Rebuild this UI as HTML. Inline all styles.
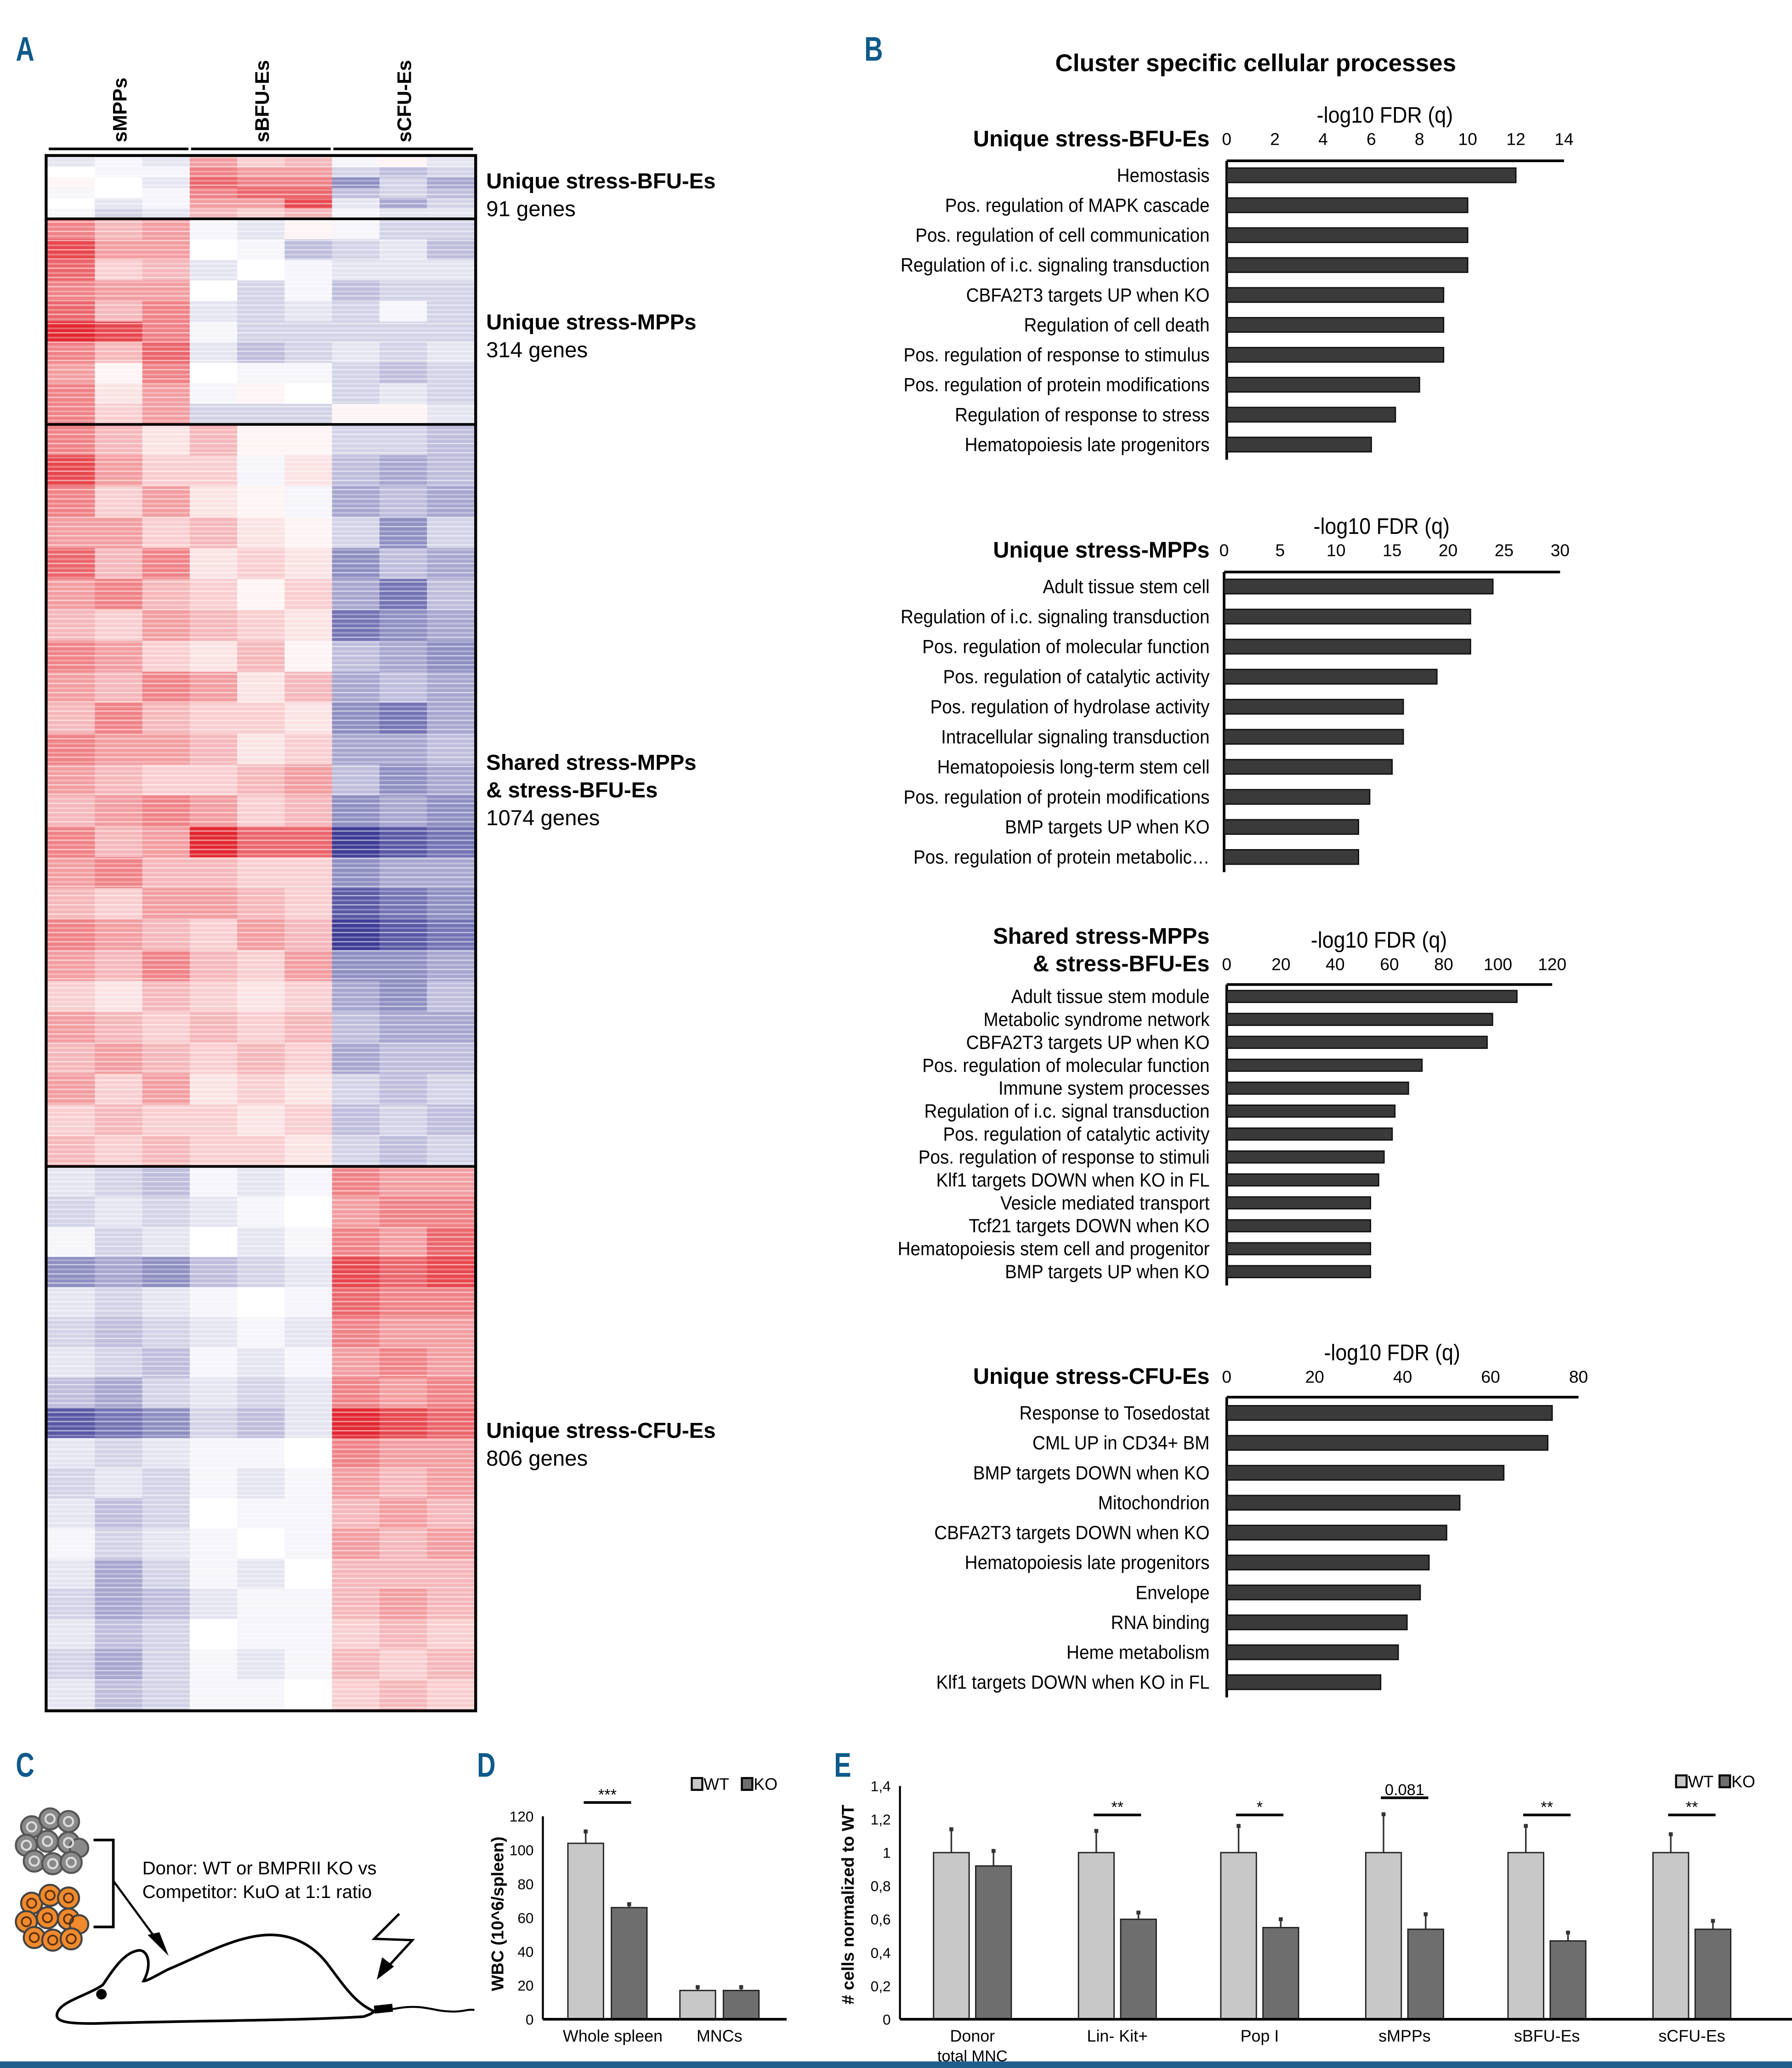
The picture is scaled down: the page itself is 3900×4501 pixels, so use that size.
<!DOCTYPE html>
<html><head><meta charset="utf-8"><style>
html,body{margin:0;padding:0;background:#fff;}
svg{display:block;}
text{font-family:"Liberation Sans",sans-serif;}
</style></head><body>
<svg id="fig" xmlns="http://www.w3.org/2000/svg" width="3900" height="4501" viewBox="0 0 1360 1569" preserveAspectRatio="none">
<defs>
<pattern id="stripes" x="0" y="0" width="10" height="7" patternUnits="userSpaceOnUse">
<rect x="0" y="0" width="10" height="1" fill="#fff" opacity="0.55"/>
<rect x="0" y="3.5" width="10" height="1.3" fill="#fff" opacity="0.3"/>
</pattern>
</defs>
<rect x="0" y="0" width="1360" height="1569" fill="#fff"/>
<g id="panelA"></g>
<g id="panelB"></g>
<g id="panelC">
  <text x="12" y="1348" font-size="26" font-weight="bold" fill="#0e5a8a" transform="translate(12,1348) scale(0.75,1) translate(-12,-1348)">C</text>
  <g fill="#8a8a8a" stroke="#555" stroke-width="1.5">
    <circle cx="24" cy="1386" r="8"/><circle cx="38" cy="1380" r="8"/><circle cx="52" cy="1382" r="8"/>
    <circle cx="20" cy="1400" r="8"/><circle cx="36" cy="1397" r="8"/><circle cx="52" cy="1398" r="8"/><circle cx="60" cy="1402" r="7"/>
    <circle cx="26" cy="1412" r="8"/><circle cx="40" cy="1414" r="8"/><circle cx="54" cy="1413" r="8"/>
  </g>
  <g fill="none" stroke="#ddd" stroke-width="1.5">
    <circle cx="24" cy="1386" r="3.5"/><circle cx="38" cy="1380" r="3.5"/><circle cx="52" cy="1382" r="3.5"/>
    <circle cx="20" cy="1400" r="3.5"/><circle cx="36" cy="1397" r="3.5"/><circle cx="52" cy="1398" r="3.5"/>
    <circle cx="26" cy="1412" r="3.5"/><circle cx="40" cy="1414" r="3.5"/><circle cx="54" cy="1413" r="3.5"/>
  </g>
  <g fill="#f08a2c" stroke="#444" stroke-width="1.5">
    <circle cx="24" cy="1444" r="8"/><circle cx="38" cy="1438" r="8"/><circle cx="52" cy="1440" r="8"/>
    <circle cx="20" cy="1458" r="8"/><circle cx="36" cy="1455" r="8"/><circle cx="52" cy="1456" r="8"/><circle cx="60" cy="1460" r="7"/>
    <circle cx="26" cy="1470" r="8"/><circle cx="40" cy="1472" r="8"/><circle cx="54" cy="1471" r="8"/>
  </g>
  <g fill="none" stroke="#5a3010" stroke-width="1.3">
    <circle cx="24" cy="1444" r="3.5"/><circle cx="38" cy="1438" r="3.5"/><circle cx="52" cy="1440" r="3.5"/>
    <circle cx="20" cy="1458" r="3.5"/><circle cx="36" cy="1455" r="3.5"/><circle cx="52" cy="1456" r="3.5"/>
    <circle cx="26" cy="1470" r="3.5"/><circle cx="40" cy="1472" r="3.5"/><circle cx="54" cy="1471" r="3.5"/>
  </g>
  <path d="M71 1396 H86 V1462 H71" fill="none" stroke="#000" stroke-width="2"/>
  <path d="M86 1427 L125 1480" stroke="#000" stroke-width="1.6" fill="none"/>
  <path d="M128 1484 L112 1468 L121 1466 Z" fill="#000"/>
  <text x="108" y="1422" font-size="14">Donor: WT or BMPRII KO vs</text>
  <text x="108" y="1440" font-size="14">Competitor: KuO at 1:1 ratio</text>
  <path d="M303 1452 L284 1471 L313 1472 L290 1497" fill="none" stroke="#000" stroke-width="1.8"/>
  <path d="M286 1502 L290 1485 L299 1492 Z" fill="#000"/>
  <path d="M109 1503 C116 1490 112 1478 104 1480 C94 1482 86 1494 78 1506 C66 1514 48 1518 44 1526 C40 1534 50 1536 80 1535 C150 1533 230 1533 276 1530 C282 1528 283 1527 284 1526 C270 1520 262 1508 250 1492 C240 1478 225 1468 205 1468 C180 1468 150 1485 128 1494 C120 1498 112 1503 109 1503 Z" fill="none" stroke="#000" stroke-width="2"/>
  <circle cx="77" cy="1513" r="4" fill="#000"/>
  <path d="M284 1526 L300 1524 M300 1524 C320 1520 330 1526 340 1526 C350 1527 355 1524 360 1525" fill="none" stroke="#000" stroke-width="1.5"/>
  <rect x="284" y="1521" width="14" height="6" fill="#000" transform="rotate(-6 291 1524)"/>
</g>
<g id="panelD"></g>
<g id="panelE"></g>
<rect x="0" y="1564" width="1360" height="5" fill="#1f5f8b"/>
</svg>
<script>
// ---------- Panel A heatmap data ----------
const heatColumns = ["sMPPs","sMPPs","sMPPs","sBFU-Es","sBFU-Es","sBFU-Es","sCFU-Es","sCFU-Es","sCFU-Es"];
const clusterNames = ["Unique stress-BFU-Es","Unique stress-MPPs","Shared stress-MPPs & stress-BFU-Es","Unique stress-CFU-Es"];
const clusterGenes = [91,314,1074,806];
const cluster1 = [
[-2,-1,-2,5,3,4,-1,1,-2],[0,-1,-1,6,5,5,-3,-4,-3],[1,0,-2,7,6,6,-6,-3,-5],
[-1,0,-1,6,7,7,-4,-3,-4],[0,-2,-1,5,5,8,-2,-5,-3],[-1,-3,-2,4,3,4,-1,-2,-2]];
const cluster2 = [
[6,4,5,-1,-2,1,-1,-3,-3],[8,5,5,0,-1,-4,-3,-2,-4],[7,3,4,-2,0,-1,-2,-2,-2],
[6,5,5,0,-3,-1,-4,-3,-3],[7,4,6,-2,-3,-2,-3,-1,-3],[9,8,6,-1,-3,-3,-3,-3,-3],
[6,4,7,-2,-4,-3,-2,-3,-2],[5,1,6,0,-1,-1,-3,-4,-3],[6,2,5,-1,1,0,-3,-2,-3],[6,3,5,-3,-3,-3,1,1,-2]];
const cluster3 = [
[6,4,2,4,1,1,-3,-3,-4],[8,5,3,3,-1,2,-4,-5,-4],[6,3,5,2,1,-1,-5,-4,-5],[5,5,3,4,2,1,-3,-6,-3],
[7,4,6,2,3,2,-6,-4,-5],[5,6,4,3,1,3,-5,-7,-4],[4,3,5,4,3,2,-7,-6,-5],[6,5,3,2,4,1,-4,-5,-6],
[5,4,6,5,2,4,-5,-4,-5],[4,6,4,3,3,2,-6,-7,-5],[6,5,5,4,2,3,-5,-5,-4],[5,4,3,3,4,5,-4,-6,-5],
[4,5,6,5,3,4,-6,-5,-6],[6,4,5,9,7,7,-9,-8,-7],[5,6,4,4,3,3,-6,-5,-5],[4,3,5,5,4,3,-8,-7,-6],
[6,5,4,3,5,4,-9,-8,-7],[5,4,6,4,3,5,-6,-6,-5],[3,2,4,3,2,3,-5,-6,-4],[5,4,3,4,3,4,-4,-5,-5],
[4,5,4,3,4,3,-5,-4,-4],[5,3,5,2,3,2,-3,-4,-3],[3,4,3,3,2,3,-4,-3,-4],[4,3,4,3,3,2,-3,-4,-3]];
const cluster4 = [
[-2,-3,-4,-1,-2,-1,6,5,5],[-3,-2,-3,-2,-1,0,5,6,6],[-1,-3,-2,0,-2,-1,6,5,7],[-6,-5,-6,-4,-3,-2,8,7,8],
[-2,-3,-2,-1,0,-1,7,6,6],[-3,-4,-3,-2,-1,-2,6,5,5],[-2,-3,-4,-1,-2,-1,5,6,5],[-4,-5,-3,-2,-3,-2,6,5,6],
[-8,-7,-6,-3,-4,-2,9,8,7],[-2,-3,-2,-1,-1,0,6,5,5],[-3,-2,-3,-1,-2,-1,5,4,5],[-2,-4,-3,0,-1,-1,4,5,4],
[-1,-3,-2,-1,0,-1,5,4,5],[-2,-5,-3,-1,-2,0,4,4,4],[-3,-5,-4,-2,-1,-1,4,5,4],[-2,-4,-3,0,-1,-1,3,4,3],
[-3,-5,-3,-1,-2,-1,4,3,4],[-2,-4,-3,-1,-1,0,3,4,3]];

// ---------- Panel B data ----------
const b1Title = ["Unique stress-BFU-Es"];
const b1Ticks = [0,2,4,6,8,10,12,14];
const b1Terms = ["Hemostasis","Pos. regulation of MAPK cascade","Pos. regulation of cell communication","Regulation of i.c. signaling transduction","CBFA2T3  targets UP when KO","Regulation of cell death","Pos. regulation of response to stimulus","Pos. regulation of protein modifications","Regulation of response to stress","Hematopoiesis late progenitors"];
const b1Values = [12,10,10,10,9,9,9,8,7,6];
const b2Title = ["Unique stress-MPPs"];
const b2Ticks = [0,5,10,15,20,25,30];
const b2Terms = ["Adult tissue stem cell","Regulation of i.c. signaling transduction","Pos. regulation of molecular function","Pos. regulation of catalytic activity","Pos. regulation of hydrolase activity","Intracellular signaling transduction","Hematopoiesis long-term stem cell","Pos. regulation of protein modifications","BMP targets UP when KO","Pos. regulation of protein metabolic…"];
const b2Values = [24,22,22,19,16,16,15,13,12,12];
const b3Title = ["Shared stress-MPPs","& stress-BFU-Es"];
const b3Ticks = [0,20,40,60,80,100,120];
const b3Terms = ["Adult tissue stem module","Metabolic syndrome network","CBFA2T3  targets UP when KO","Pos. regulation of molecular function","Immune system processes","Regulation of i.c. signal transduction","Pos. regulation of catalytic activity","Pos. regulation of response to stimuli","Klf1 targets DOWN when KO in FL","Vesicle mediated transport","Tcf21 targets DOWN when KO","Hematopoiesis stem cell and progenitor","BMP targets UP when KO"];
const b3Values = [107,98,96,72,67,62,61,58,56,53,53,53,53];
const b4Title = ["Unique stress-CFU-Es"];
const b4Ticks = [0,20,40,60,80];
const b4Terms = ["Response to Tosedostat","CML  UP in CD34+ BM","BMP targets DOWN when KO","Mitochondrion","CBFA2T3 targets DOWN when KO","Hematopoiesis late progenitors","Envelope","RNA binding","Heme metabolism","Klf1 targets DOWN when KO in FL"];
const b4Values = [74,73,63,53,50,46,44,41,39,35];

// ---------- Panel D data ----------
const dCategories = ["Whole spleen","MNCs"];
const dWT = [104,17];
const dKO = [66,17];
const dWTerr = [7,2];
const dKOerr = [2,2];
const dTicks = [0,20,40,60,80,100,120];
const dSig = ["***",""];

// ---------- Panel E data ----------
const eCategories = ["Donor","Lin- Kit+","Pop I","sMPPs","sBFU-Es","sCFU-Es"];
const eWT = [1,1,1,1,1,1];
const eKO = [0.92,0.60,0.55,0.54,0.47,0.54];
const eWTerr = [0.14,0.13,0.16,0.23,0.16,0.11];
const eKOerr = [0.09,0.04,0.05,0.09,0.05,0.05];
const eTicks = [0,0.2,0.4,0.6,0.8,1,1.2,1.4];
const eSig = ["","**","*","0.081","**","**"];

const NS="http://www.w3.org/2000/svg";
function mk(parent,tag,attrs,txt){const e=document.createElementNS(NS,tag);for(const k in attrs)e.setAttribute(k,attrs[k]);if(txt!==undefined)e.textContent=txt;parent.appendChild(e);return e;}

// ---------- Panel A ----------
(function(){
  const g=document.getElementById('panelA');
  const L=mk(g,'text',{x:12,y:46,'font-size':26,'font-weight':'bold',fill:'#0e5a8a',transform:'translate(12,46) scale(0.75,1) translate(-12,-46)'},'A');
  
  
  const x0=36,x1=360,colW=(x1-x0)/9;
  const bounds=[119,166,322,885,1297];
  const clusters=[cluster1,cluster2,cluster3,cluster4];
  function col(v){const t=Math.pow(Math.min(Math.abs(v)/9,1),1.35)*0.92;
    let r,gg,b;
    if(v>=0){r=255+(224-255)*t;gg=255+(20-255)*t;b=255+(30-255)*t;}
    else{r=255+(43-255)*t;gg=255+(42-255)*t;b=255+(140-255)*t;}
    return 'rgb('+Math.round(r)+','+Math.round(gg)+','+Math.round(b)+')';}
  clusters.forEach((rows,ci)=>{
    const y0=bounds[ci],y1=bounds[ci+1],h=(y1-y0)/rows.length;
    rows.forEach((row,ri)=>{row.forEach((v,cj)=>{
      const r=mk(g,'rect',{x:x0+cj*colW,y:y0+ri*h,width:colW+0.3,height:h+0.3,fill:col(v)});
      
      
    });});
    const lines=clusterNames[ci]==="Shared stress-MPPs & stress-BFU-Es"?["Shared stress-MPPs","& stress-BFU-Es"]:[clusterNames[ci]];
    const ly=[143,250,584,1091][ci];
    const lg=mk(g,'g',{});
    
    
    lines.forEach((t,i)=>mk(lg,'text',{x:369,y:ly+i*21,'font-size':16.5,'font-weight':'bold'},t));
    mk(lg,'text',{x:369,y:ly+lines.length*21,'font-size':16.5},clusterGenes[ci]+' genes');
  });
  const tex=mk(g,'rect',{x:x0,y:119,width:x1-x0,height:1178,fill:'url(#stripes)'});
  
  
  [166,322,885].forEach(y=>{const l=mk(g,'line',{x1:x0,x2:x1,y1:y,y2:y,stroke:'#000','stroke-width':2});});
  const bd=mk(g,'rect',{x:35,y:118,width:326,height:1180,fill:'none',stroke:'#000','stroke-width':2.2});
  
  
  const groups=["sMPPs","sBFU-Es","sCFU-Es"];
  groups.forEach((n,i)=>{
    const cx=x0+(i*3+1.5)*colW;
    const t=mk(g,'text',{x:0,y:0,'font-size':15,'font-weight':'bold',transform:'translate('+(cx+6)+',108) rotate(-90)'},n);
    
    
    const u=mk(g,'line',{x1:x0+i*3*colW+1,x2:x0+(i+1)*3*colW-1,y1:113,y2:113,stroke:'#000','stroke-width':2});
    
    
  });
})();

// ---------- Panel B ----------
(function(){
  const g=document.getElementById('panelB');
  const L=mk(g,'text',{x:656,y:46,'font-size':26,'font-weight':'bold',fill:'#0e5a8a',transform:'translate(656,46) scale(0.75,1) translate(-656,-46)'},'B');
  
  
  const T=mk(g,'text',{x:953,y:54,'font-size':18.5,'font-weight':'bold','text-anchor':'middle'},'Cluster specific cellular processes');
  
  
  const panels=[
    {title:b1Title,ticks:b1Ticks,terms:b1Terms,vals:b1Values,xa:931,xb:1187,tickY:110,axisY:122,y0:133,step:22.7,barH:11,name:'enrichment-bfu'},
    {title:b2Title,ticks:b2Ticks,terms:b2Terms,vals:b2Values,xa:929,xb:1184,tickY:422,axisY:434,y0:445,step:22.8,barH:11,name:'enrichment-mpp'},
    {title:b3Title,ticks:b3Ticks,terms:b3Terms,vals:b3Values,xa:931,xb:1178,tickY:736,axisY:747,y0:756,step:17.4,barH:9,name:'enrichment-shared'},
    {title:b4Title,ticks:b4Ticks,terms:b4Terms,vals:b4Values,xa:931,xb:1198,tickY:1049,axisY:1060,y0:1072,step:22.7,barH:11,name:'enrichment-cfu'}];
  panels.forEach(p=>{
    const pg=mk(g,'g',{});
    
    
    const maxT=p.ticks[p.ticks.length-1];
    const sx=v=>p.xa+(p.xb-p.xa)*v/maxT;
    const at=mk(pg,'text',{x:0,y:0,'font-size':17,'text-anchor':'middle',transform:'translate('+((p.xa+p.xb)/2-8)+','+(p.tickY-17)+') scale(0.92,1)'},'-log10 FDR (q)');
    
    
    p.title.forEach((t,i)=>{
      const tt=mk(pg,'text',{x:918,y:p.tickY-(p.title.length-1-i)*21+1,'font-size':17,'font-weight':'bold','text-anchor':'end'},t);
      
      
    });
    p.ticks.forEach(t=>{
      const tl=mk(pg,'text',{x:sx(t),y:p.tickY,'font-size':13,'text-anchor':'middle'},String(t));
      
      
    });
    const ax=mk(pg,'line',{x1:p.xa,x2:p.xb,y1:p.axisY,y2:p.axisY,stroke:'#000','stroke-width':2});
    
    
    const yEnd=p.y0+p.step*(p.terms.length-1)+p.barH/2+6;
    const ay=mk(pg,'line',{x1:p.xa,x2:p.xa,y1:p.axisY,y2:yEnd,stroke:'#000','stroke-width':2});
    
    
    p.terms.forEach((term,i)=>{
      const cy=p.y0+p.step*i;
      const b=mk(pg,'rect',{x:p.xa,y:cy-p.barH/2,width:sx(p.vals[i])-p.xa,height:p.barH,fill:'#3a3a3a',stroke:'#111','stroke-width':1});
      
      
      const lab=mk(pg,'text',{x:0,y:0,'font-size':14.5,'text-anchor':'end',transform:'translate(918,'+(cy+5)+') scale(0.93,1)'},term);
      
      
    });
  });
})();

// ---------- Panel D ----------
(function(){
  const g=document.getElementById('panelD');
  const L=mk(g,'text',{x:362,y:1348,'font-size':26,'font-weight':'bold',fill:'#0e5a8a',transform:'translate(362,1348) scale(0.75,1) translate(-362,-1348)'},'D');
  
  
  const xa=412,xb=597,y0=1532,y1=1378,maxV=120;
  const sy=v=>y0-(y0-y1)*v/maxV;
  const groupX=[461,546],bw=27,gap=6;
  dTicks.forEach(t=>{
    const tl=mk(g,'text',{x:405,y:sy(t)+4,'font-size':11,'text-anchor':'end'},String(t));
    
    
  });
  const yl=mk(g,'text',{x:0,y:0,'font-size':13,'font-weight':'bold','text-anchor':'middle',transform:'translate(382,1452) rotate(-90)'},'WBC (10^6/spleen)');
  
  
  dCategories.forEach((c,i)=>{
    const gx=groupX[i];
    [[dWT[i],dWTerr[i],'#c8c8c8',gx-bw-gap/2],[dKO[i],dKOerr[i],'#6e6e6e',gx+gap/2]].forEach(([v,e,f,x],k)=>{
      const eb=mk(g,'line',{x1:x+bw/2,x2:x+bw/2,y1:sy(v),y2:sy(v+e),stroke:'#333','stroke-width':1.2});
      
      
      const cap=mk(g,'rect',{x:x+bw/2-1.5,y:sy(v+e)-1.5,width:3,height:3,fill:'#333'});
      
      
      const b=mk(g,'rect',{x:x,y:sy(v),width:bw,height:y0-sy(v),fill:f,stroke:'#222','stroke-width':1});
      
      
    });
    const cl=mk(g,'text',{x:gx+(i===0?4:0),y:1549,'font-size':12.5,'text-anchor':'middle'},c);
    
    
    if(dSig[i]){
      const top=sy(Math.max(dWT[i]+dWTerr[i],dKO[i]+dKOerr[i]));
      const sl=mk(g,'line',{x1:gx-18,x2:gx+18,y1:top-22,y2:top-22,stroke:'#000','stroke-width':2});
      
      
      const st=mk(g,'text',{x:gx,y:top-24,'font-size':12,'text-anchor':'middle'},dSig[i]);
      
      
    }
  });
  const ax=mk(g,'line',{x1:xa,x2:xb,y1:y0,y2:y0,stroke:'#000','stroke-width':2});
  
  
  const ay=mk(g,'line',{x1:xa,x2:xa,y1:y1,y2:y0,stroke:'#000','stroke-width':1.5});
  
  
  const lg=mk(g,'g',{});
  
  
  mk(lg,'rect',{x:525,y:1349,width:8,height:9,fill:'#c8c8c8',stroke:'#000','stroke-width':1.5});
  mk(lg,'text',{x:534,y:1358,'font-size':12.5},'WT');
  mk(lg,'rect',{x:563,y:1349,width:8,height:9,fill:'#6e6e6e',stroke:'#000','stroke-width':1.5});
  mk(lg,'text',{x:572,y:1358,'font-size':12.5},'KO');
})();

// ---------- Panel E ----------
(function(){
  const g=document.getElementById('panelE');
  const L=mk(g,'text',{x:633,y:1348,'font-size':26,'font-weight':'bold',fill:'#0e5a8a',transform:'translate(633,1348) scale(0.75,1) translate(-633,-1348)'},'E');
  
  
  const xa=683,xb=1360,y0=1532,y1=1355,maxV=1.4;
  const sy=v=>y0-(y0-y1)*v/maxV;
  const groupX=[738,848,956,1066,1174,1284],bw=27,gap=5;
  eTicks.forEach(t=>{
    const tl=mk(g,'text',{x:676,y:sy(t)+4,'font-size':11,'text-anchor':'end'},String(t).replace('.',','));
    
    
  });
  const yl=mk(g,'text',{x:0,y:0,'font-size':13,'font-weight':'bold','text-anchor':'middle',transform:'translate(648,1445) rotate(-90)'},'# cells normalized to WT');
  
  
  eCategories.forEach((c,i)=>{
    const gx=groupX[i];
    [[eWT[i],eWTerr[i],'#c8c8c8',gx-bw-gap/2],[eKO[i],eKOerr[i],'#6e6e6e',gx+gap/2]].forEach(([v,e,f,x],k)=>{
      const eb=mk(g,'line',{x1:x+bw/2,x2:x+bw/2,y1:sy(v),y2:sy(v+e),stroke:'#333','stroke-width':1.2});
      
      
      const cap=mk(g,'rect',{x:x+bw/2-1.5,y:sy(v+e)-1.5,width:3,height:3,fill:'#333'});
      
      
      const b=mk(g,'rect',{x:x,y:sy(v),width:bw,height:y0-sy(v),fill:f,stroke:'#222','stroke-width':1});
      
      
    });
    const cl=mk(g,'text',{x:gx,y:1549,'font-size':12.5,'text-anchor':'middle'},c);
    
    
    if(eSig[i]){
      const isNum=eSig[i]==='0.081';
      const ly=isNum?1364:1377;
      const sl=mk(g,'line',{x1:gx-18,x2:gx+18,y1:ly,y2:ly,stroke:'#000','stroke-width':2});
      
      
      const st=mk(g,'text',{x:gx,y:ly-2,'font-size':12,'text-anchor':'middle'},eSig[i]);
      
      
    }
  });
  const sub=mk(g,'text',{x:738,y:1564,'font-size':12,'text-anchor':'middle'},'total MNC');
  
  
  const ax=mk(g,'line',{x1:xa,x2:xb,y1:y0,y2:y0,stroke:'#000','stroke-width':2});
  
  
  const ay=mk(g,'line',{x1:xa,x2:xa,y1:y1,y2:y0,stroke:'#000','stroke-width':1.5});
  
  
  const lg=mk(g,'g',{});
  
  
  mk(lg,'rect',{x:1272,y:1347,width:8,height:9,fill:'#c8c8c8',stroke:'#000','stroke-width':1.5});
  mk(lg,'text',{x:1281,y:1356,'font-size':12.5},'WT');
  mk(lg,'rect',{x:1305,y:1347,width:8,height:9,fill:'#6e6e6e',stroke:'#000','stroke-width':1.5});
  mk(lg,'text',{x:1314,y:1356,'font-size':12.5},'KO');
})();
</script>
</body></html>
